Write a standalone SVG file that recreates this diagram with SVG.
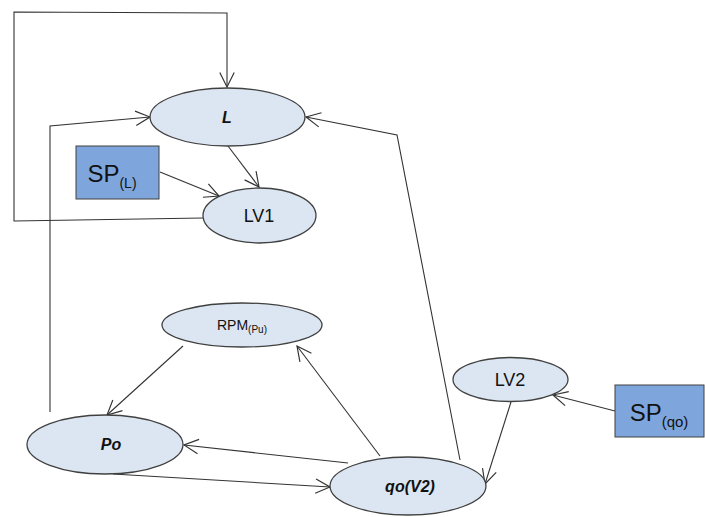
<svg xmlns="http://www.w3.org/2000/svg" width="705" height="517" viewBox="0 0 705 517">
<style>
.n{fill:#dce6f2;stroke:#404040;stroke-width:1.3}
.b{fill:#7ea6dc;stroke:#404040;stroke-width:1}
.c{fill:none;stroke:#333;stroke-width:1.1}
text{font-family:"Liberation Sans","Open Sans",sans-serif;fill:#111;text-anchor:middle}
.bi{font-weight:bold;font-style:italic;font-size:16px}
</style>
<defs>
<marker id="a" viewBox="0 0 20 20" refX="18" refY="10" markerWidth="18" markerHeight="18" markerUnits="userSpaceOnUse" orient="auto">
<path d="M2,2 L18,10 L2,18" fill="none" stroke="#333" stroke-width="1.3"/>
</marker>
</defs>
<rect width="705" height="517" fill="#fff"/>
<g id="connectors">
<polyline class="c" points="203,218 14,221 14,12 227,13 227,87" marker-end="url(#a)"/>
<polyline class="c" points="50,412 50,126 150,117" marker-end="url(#a)"/>
<line class="c" x1="228" y1="146" x2="259" y2="187" marker-end="url(#a)"/>
<line class="c" x1="160" y1="172" x2="219" y2="196" marker-end="url(#a)"/>
<polyline class="c" points="460,460 397,135 306,117" marker-end="url(#a)"/>
<line class="c" x1="183" y1="346" x2="107" y2="415" marker-end="url(#a)"/>
<line class="c" x1="380" y1="456" x2="297" y2="346" marker-end="url(#a)"/>
<line class="c" x1="348" y1="463" x2="184" y2="445" marker-end="url(#a)"/>
<line class="c" x1="113" y1="474" x2="330" y2="487" marker-end="url(#a)"/>
<line class="c" x1="615" y1="411" x2="553" y2="395" marker-end="url(#a)"/>
<line class="c" x1="511" y1="402" x2="485" y2="484" marker-end="url(#a)"/>
</g>
<g id="L"><ellipse class="n" cx="227.5" cy="117" rx="77.5" ry="29"/><text class="bi" x="227" y="123">L</text></g>
<g id="SPL"><rect class="b" x="76" y="146" width="83" height="53"/><text x="112" y="182" font-size="24">SP<tspan font-size="14" dy="6">(L)</tspan></text></g>
<g id="LV1"><ellipse class="n" cx="259.5" cy="215.5" rx="56.5" ry="27.5"/><text x="259" y="222" font-size="18">LV1</text></g>
<g id="RPM"><ellipse class="n" cx="242" cy="325" rx="80" ry="22"/><text x="242" y="330" font-size="14">RPM<tspan font-size="10" dy="3">(Pu)</tspan></text></g>
<g id="Po"><ellipse class="n" cx="105" cy="444.5" rx="78" ry="29.5"/><text class="bi" x="111" y="450">Po</text></g>
<g id="qo"><ellipse class="n" cx="408" cy="486" rx="78" ry="29"/><text class="bi" x="410" y="492">qo(V2)</text></g>
<g id="LV2"><ellipse class="n" cx="510.5" cy="379.5" rx="57.5" ry="22"/><text x="510" y="386" font-size="18">LV2</text></g>
<g id="SPqo"><rect class="b" x="615" y="385" width="89" height="52"/><text x="659" y="421" font-size="24">SP<tspan font-size="15" dy="6">(qo)</tspan></text></g>
</svg>
